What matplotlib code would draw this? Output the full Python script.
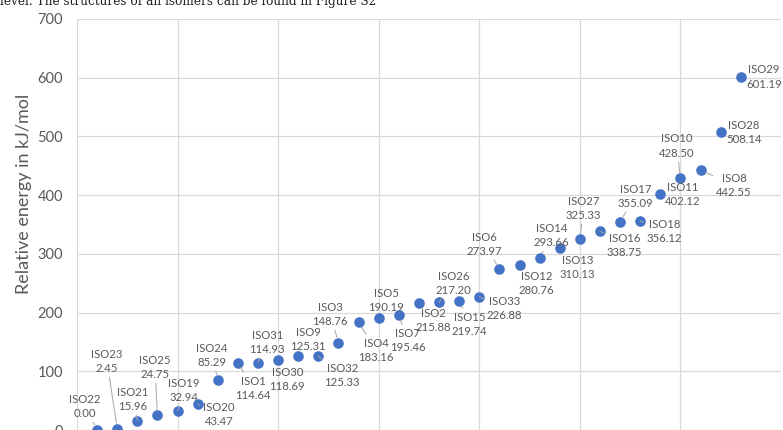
import matplotlib
matplotlib.use('Agg')
import matplotlib.pyplot as plt
import numpy as np

# Isomers sorted by relative energy (kJ/mol)
isomers = ['ISO22', 'ISO23', 'ISO21', 'ISO25', 'ISO19', 'ISO20', 'ISO24', 'ISO1',
           'ISO31', 'ISO30', 'ISO9', 'ISO32', 'ISO3', 'ISO4', 'ISO5', 'ISO7',
           'ISO2', 'ISO26', 'ISO15', 'ISO33', 'ISO6', 'ISO12', 'ISO14', 'ISO13',
           'ISO27', 'ISO16', 'ISO17', 'ISO18', 'ISO11', 'ISO10', 'ISO8', 'ISO28',
           'ISO29']
energies = [0.00, 2.45, 15.96, 24.75, 32.94, 43.47, 85.29, 114.64,
            114.93, 118.69, 125.31, 125.33, 148.76, 183.16, 190.19, 195.46,
            215.88, 217.20, 219.74, 226.88, 273.97, 280.76, 293.66, 310.13,
            325.33, 338.75, 355.09, 356.12, 402.12, 428.50, 442.55, 508.14,
            601.19]
rank = np.arange(1, len(energies) + 1)

# where each data label sits (data coords) and whether it gets a leader line
label_x = [0.40, 1.49, 2.79, 3.88, 5.33, 7.07, 6.72, 8.76,
           9.46, 10.45, 11.50, 13.19, 12.59, 14.88, 15.38, 16.43,
           17.72, 18.72, 19.51, 21.26, 20.26, 22.85, 23.59, 24.89,
           25.19, 27.23, 27.77, 29.22, 30.11, 29.82, 32.66, 33.15,
           34.15]
label_y = [40.4, 117.1, 52.3, 106.9, 67.7, 26.8, 127.3, 71.1,
           149.5, 86.4, 154.6, 93.2, 197.2, 135.8, 221.1, 152.9,
           187.0, 250.0, 180.1, 207.4, 316.5, 250.0, 331.8, 277.3,
           377.9, 314.8, 398.3, 338.7, 401.8, 483.6, 417.1, 507.4,
           601.1]
leader = [1, 1, 1, 1, 1, 1, 1, 1,
          1, 0, 0, 1, 1, 1, 0, 1,
          0, 1, 1, 1, 1, 0, 1, 0,
          1, 1, 1, 1, 0, 1, 1, 0,
          0]

font = ['Lato', 'DejaVu Sans']
blue = '#4472C4'
grid = '#D9D9D9'
txt = '#595959'

fig = plt.figure(figsize=(7.83, 4.30), dpi=100)
ax = fig.add_axes([77 / 783, 0.0, 704 / 783, 1 - 19 / 430])

ax.plot(rank, energies, 'o', color=blue, markersize=6.6, zorder=3, clip_on=False)

for i in range(len(isomers)):
    s = '%s\n%.2f' % (isomers[i], energies[i])
    if leader[i]:
        ax.annotate(s, xy=(rank[i], energies[i]), xytext=(label_x[i], label_y[i]),
                    ha='center', va='center', fontsize=8.2, color=txt,
                    family=font, linespacing=1.35, zorder=4,
                    arrowprops=dict(arrowstyle='-', color='#A6A6A6', lw=0.7,
                                    shrinkA=0.5, shrinkB=4))
    else:
        ax.text(label_x[i], label_y[i], s, ha='center', va='center', fontsize=8.2,
                color=txt, family=font, linespacing=1.35, zorder=4)

ax.set_xlim(0, 35)
ax.set_ylim(0, 700)
ax.set_xticks(np.arange(0, 36, 5))
ax.set_yticks(np.arange(0, 701, 100))
ax.grid(True, color=grid, lw=0.9)
ax.set_axisbelow(True)
for sp in ax.spines.values():
    sp.set_visible(False)
ax.tick_params(length=0, labelbottom=False, labelsize=10.5, labelcolor=txt, pad=10)
for lab in ax.get_yticklabels():
    lab.set_family(font)

ax.set_ylabel('Relative energy in kJ/mol', fontsize=13, color=txt, family=font)
ax.yaxis.set_label_coords(-0.064, 0.574)

# caption text from the page above the chart
fig.text(0.0, 1 - 4.5 / 430, 'level. The structures of all isomers can be found in Figure S2',
         family='DejaVu Serif', fontsize=8.75, color='#222222', ha='left', va='baseline')

fig.savefig('out.png', dpi=100)
